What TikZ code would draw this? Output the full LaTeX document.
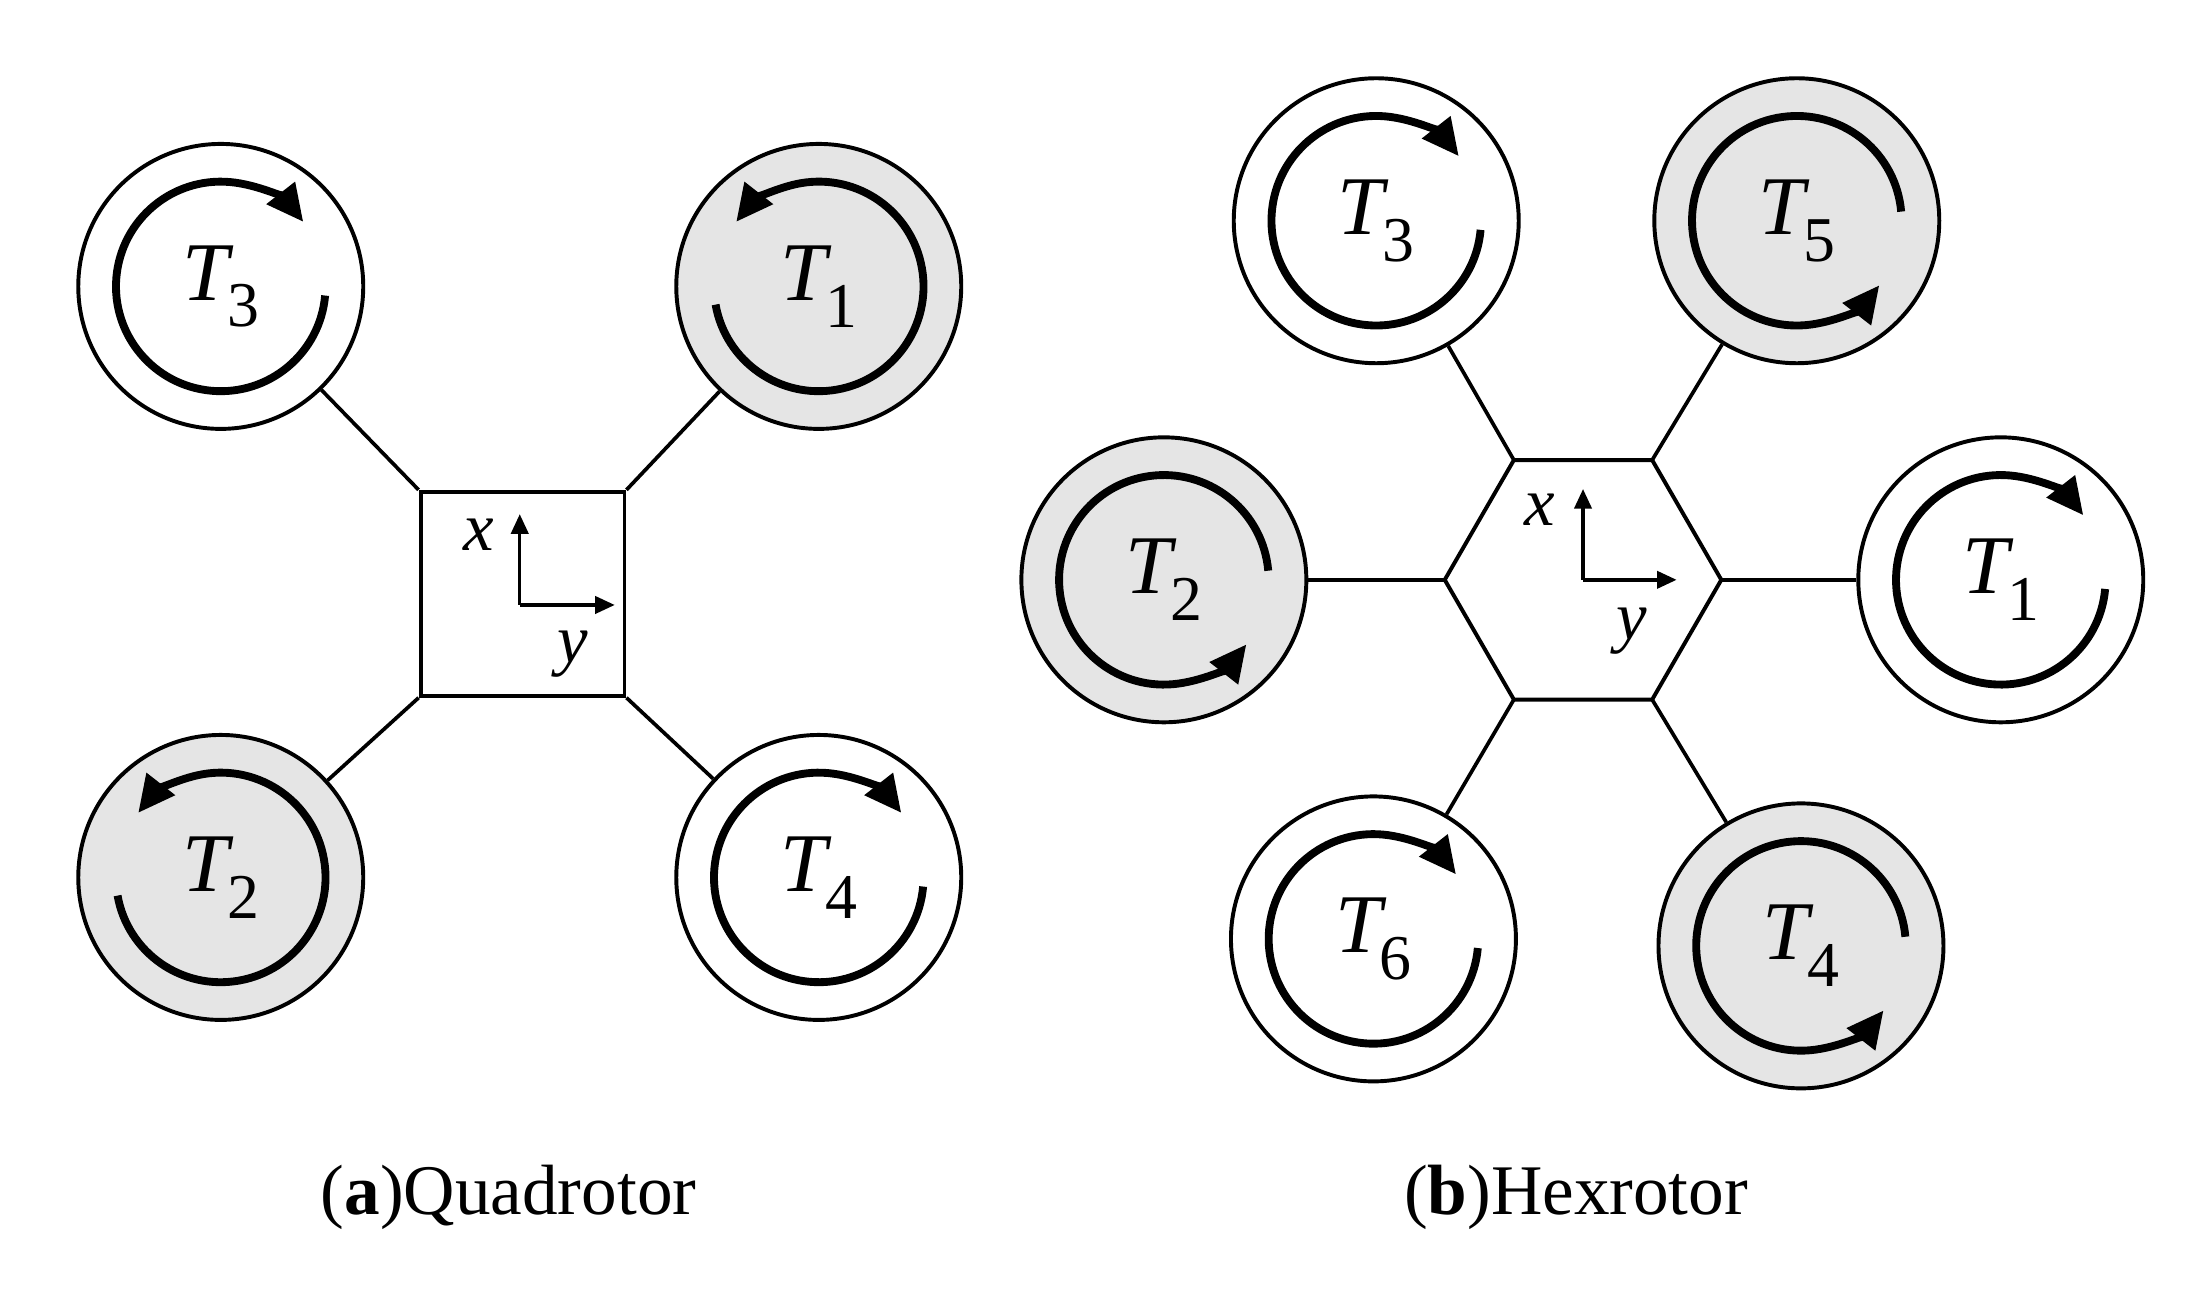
\documentclass[tikz,border=0pt]{standalone}
\usepackage{fontspec}
\setmainfont{Liberation Serif}
\usetikzlibrary{arrows.meta,calc}
\newcommand\Tl[1]{{\itshape T}\kern-0.02em\raisebox{-0.32em}{\fontsize{26}{30}\selectfont #1}}
\begin{document}
\begin{tikzpicture}[x=0.02cm,y=0.02cm,
  rotor/.style={circle,draw,line width=1.6pt,minimum size=4.08cm,inner sep=0pt,font=\fontsize{34}{40}\selectfont},
  spin/.style={line width=3.2pt,-{Triangle[length=15pt,width=14pt]}},
  arm/.style={line width=1.5pt},
  ax/.style={line width=1.4pt,-{Triangle[length=8pt,width=7pt]}},
  lab/.style={font=\fontsize{28}{32}\selectfont\itshape},
  captxt/.style={font=\fontsize{29}{34}\selectfont}]
\useasboundingbox (0,-8) rectangle (1566,925);
\definecolor{rg}{gray}{0.9}
\newcommand\rcw[4]{\node[rotor,fill=#3] (#1) at (#2) {\Tl{#4}};
  \draw[spin] ($(#1)+(-5:1.5cm)$) arc[start angle=-5,end angle=-322,radius=1.5cm];}
\newcommand\rccwA[4]{\node[rotor,fill=#3] (#1) at (#2) {\Tl{#4}};
  \draw[spin] ($(#1)+(190:1.5cm)$) arc[start angle=190,end angle=502,radius=1.5cm];}
\newcommand\rccwB[4]{\node[rotor,fill=#3] (#1) at (#2) {\Tl{#4}};
  \draw[spin] ($(#1)+(5:1.5cm)$) arc[start angle=5,end angle=322,radius=1.5cm];}
% Quadrotor
\node[draw,line width=1.6pt,minimum size=2.92cm,inner sep=0pt] (sq) at (374,500) {};
\rcw{qa}{158,720}{white}{3}
\rccwA{qb}{586,720}{rg}{1}
\rccwA{qc}{158,297}{rg}{2}
\rcw{qd}{586,297}{white}{4}
\draw[arm] (sq.north west) -- (qa);
\draw[arm] (sq.north east) -- (qb);
\draw[arm] (sq.south west) -- (qc);
\draw[arm] (sq.south east) -- (qd);
\coordinate (qo) at (372,492);
\coordinate (qx) at (372,557);
\coordinate (qy) at (440,492);
\draw[ax] (qo) -- (qx);
\draw[ax] (qo) -- (qy);
\node[lab] (qxl) at (343,542) {x};
\node[lab] (qyl) at (410,457) {y};
\node[captxt] (qcap) at (364,68) {(\textbf{a})Quadrotor};
% Hexrotor
\coordinate (hc) at (1133,510);
\foreach \a/\n in {0/h0,60/h60,120/h120,180/h180,240/h240,300/h300}{
  \coordinate (\n) at ($(hc)+(\a:1.98cm)$);}
\draw[line width=1.6pt] (h0)--(h60)--(h120)--(h180)--(h240)--(h300)--cycle;
\rcw{ha}{985,767}{white}{3}
\rccwB{hb}{1286,767}{rg}{5}
\rccwB{hd}{833,510}{rg}{2}
\rcw{he}{1432,510}{white}{1}
\rcw{hf}{983,253}{white}{6}
\rccwB{hg}{1289,248}{rg}{4}
\draw[arm] (h120) -- (ha);
\draw[arm] (h60) -- (hb);
\draw[arm] (h180) -- (hd);
\draw[arm] (h0) -- (he);
\draw[arm] (h240) -- (hf);
\draw[arm] (h300) -- (hg);
\coordinate (hx) at (1133,575);
\coordinate (hy) at (1200,510);
\draw[ax] (hc) -- (hx);
\draw[ax] (hc) -- (hy);
\node[lab] (hxl) at (1102,560) {x};
\node[lab] (hyl) at (1168,473) {y};
\node[captxt] (hcap) at (1128,68) {(\textbf{b})Hexrotor};
\end{tikzpicture}
\end{document}
